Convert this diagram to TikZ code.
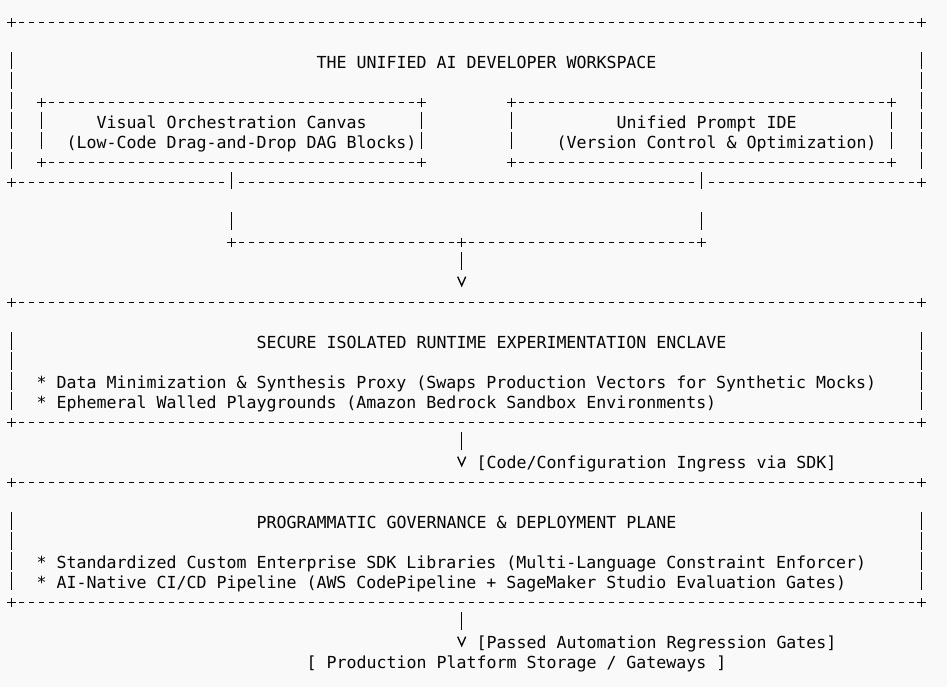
\documentclass[tikz,border=0pt]{standalone}
\usepackage{fontspec}
\setmonofont{DejaVu Sans Mono}
\usepackage{xcolor}
\usetikzlibrary{positioning, shapes.misc, arrows.meta}

\definecolor{pagebg}{RGB}{249,249,249}
\definecolor{inkc}{RGB}{5,5,5}

\newcommand{\asciiframe}[2]{%
  \draw[hline] (#1.north west) -- (#1.north east);
  \draw[vbar, shorten <=#2, shorten >=13.2pt] (#1.north west) -- (#1.south west);
  \draw[vbar, shorten <=#2, shorten >=13.2pt] (#1.north east) -- (#1.south east);
  \foreach \c/\n in {north west/nw, north east/ne, south west/sw, south east/se}
    \node[cornerplus] (#1-\n) at (#1.\c) {};
}

\begin{document}
\begin{tikzpicture}[x=1pt,y=-1pt,color=inkc,
    hline/.style={line width=1.15pt, dash pattern=on 5pt off 5pt, shorten <=7.5pt, shorten >=7.5pt},
    vbar/.style={line width=1.35pt, dash pattern=on 17.3pt off 2.7pt},
    vlink/.style={line width=1.35pt, dash pattern=on 17.3pt off 22.7pt},
    vtip/.style={-{Straight Barb[length=9pt, width=8pt]}},
    cornerplus/.style={cross out, draw, rotate=45, minimum size=5pt, inner sep=0pt, line width=1.15pt},
    slot/.style={inner sep=0pt, outer sep=0pt},
    txt/.style={inner sep=0pt, outer sep=0pt, anchor=base west, text height=12pt, text depth=4pt,
                font=\ttfamily\fontsize{16.6}{20}\selectfont}]

  \fill[pagebg] (0,0) rectangle (947,687);
  \useasboundingbox (0,0) rectangle (947,687);

  \node[slot, minimum width=910pt, minimum height=160pt] (workspace) at (466.7,102.7) {};
  \node[slot, minimum width=380pt, minimum height=60pt] (canvas) at (231.7,132.7) {};
  \node[slot, minimum width=380pt, minimum height=60pt] (promptide) at (701.7,132.7) {};
  \node[slot, minimum width=910pt, minimum height=120pt] (enclave) at (466.7,362.7) {};
  \node[slot, minimum width=910pt, minimum height=120pt] (govern) at (466.7,542.7) {};

  \asciiframe{workspace}{29.5pt}
  \asciiframe{canvas}{9.5pt}
  \asciiframe{promptide}{9.5pt}
  \asciiframe{enclave}{29.5pt}
  \asciiframe{govern}{29.5pt}

  \draw[hline] (workspace.south west) -- (canvas.south |- workspace.south);
  \draw[hline] (canvas.south |- workspace.south) -- (promptide.south |- workspace.south);
  \draw[hline] (promptide.south |- workspace.south) -- (workspace.south east);
  \draw[hline] (canvas.south west) -- (canvas.south east);
  \draw[hline] (promptide.south west) -- (promptide.south east);
  \draw[hline] (enclave.south west) -- (enclave.south east);
  \draw[hline] (govern.south west) -- (govern.south east);

  \node[txt] (ws-title) at (316.7,68.3) {THE UNIFIED AI DEVELOPER WORKSPACE};
  \node[txt] (canvas-name) at (96.7,128.3) {Visual Orchestration Canvas};
  \node[txt] (canvas-note) at (66.7,148.3) {(Low-Code Drag-and-Drop DAG Blocks)};
  \node[txt] (ide-name) at (616.7,128.3) {Unified Prompt IDE};
  \node[txt] (ide-note) at (556.7,148.3) {(Version Control \& Optimization)};

  \node[txt] (enc-title) at (256.7,348.3) {SECURE ISOLATED RUNTIME EXPERIMENTATION ENCLAVE};
  \node[txt] (enc-item1) at (36.7,388.3) {* Data Minimization \& Synthesis Proxy (Swaps Production Vectors for Synthetic Mocks)};
  \node[txt] (enc-item2) at (36.7,408.3) {* Ephemeral Walled Playgrounds (Amazon Bedrock Sandbox Environments)};

  \node[txt] (gov-title) at (256.7,528.3) {PROGRAMMATIC GOVERNANCE \& DEPLOYMENT PLANE};
  \node[txt] (gov-item1) at (36.7,568.3) {* Standardized Custom Enterprise SDK Libraries (Multi-Language Constraint Enforcer)};
  \node[txt] (gov-item2) at (36.7,588.3) {* AI-Native CI/CD Pipeline (AWS CodePipeline + SageMaker Studio Evaluation Gates)};

  \node[txt] (ingress) at (476.7,468.3) {[Code/Configuration Ingress via SDK]};
  \node[txt] (passed) at (476.7,648.3) {[Passed Automation Regression Gates]};
  \node[txt] (prod) at (306.7,668.3) {[ Production Platform Storage / Gateways ]};

  \coordinate (jl) at (231.7,242.7);
  \coordinate (jm) at (461.7,242.7);
  \coordinate (jr) at (701.7,242.7);

  \draw[vlink, shorten <=9.5pt, shorten >=13.2pt] (canvas.south) -- (jl);
  \draw[vlink, shorten <=9.5pt, shorten >=13.2pt] (promptide.south) -- (jr);
  \draw[hline] (jl) -- (jr);
  \foreach \j in {jl, jm, jr}
    \node[cornerplus] (\j-plus) at (\j) {};

  \draw[vlink, vtip, shorten <=9.5pt, shorten >=15.4pt] (jm) -- (jm |- enclave.north);
  \draw[vlink, vtip, shorten <=9.5pt, shorten >=15.4pt] (enclave.south -| jm) -- (govern.north -| jm);
  \draw[vlink, vtip, shorten <=9.5pt, shorten >=9pt] (govern.south -| jm) -- (jm |- prod.north);

\end{tikzpicture}
\end{document}
